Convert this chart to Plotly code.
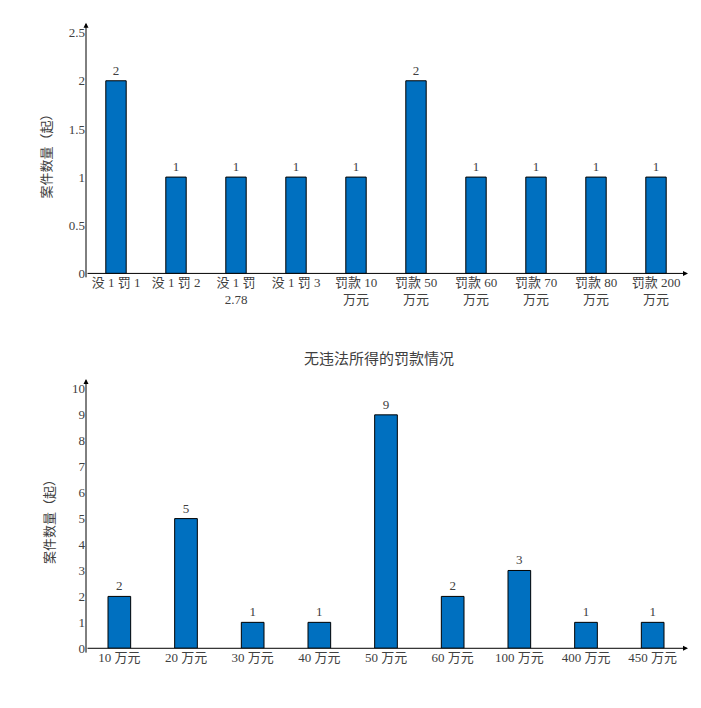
import plotly.graph_objects as go
from plotly.subplots import make_subplots

cats1 = ["没 1 罚 1", "没 1 罚 2", "没 1 罚<br>2.78", "没 1 罚 3", "罚款 10<br>万元", "罚款 50<br>万元",
         "罚款 60<br>万元", "罚款 70<br>万元", "罚款 80<br>万元", "罚款 200<br>万元"]
vals1 = [2, 1, 1, 1, 1, 2, 1, 1, 1, 1]
cats2 = ["10 万元", "20 万元", "30 万元", "40 万元", "50 万元", "60 万元", "100 万元", "400 万元", "450 万元"]
vals2 = [2, 5, 1, 1, 9, 2, 3, 1, 1]
title2 = "无违法所得的罚款情况"
ytitle = "案件数量（起）"

FONT = "Liberation Serif, Noto Sans CJK SC"
fig = make_subplots(rows=2, cols=1)
for i, (c, v) in enumerate([(cats1, vals1), (cats2, vals2)], start=1):
    fig.add_trace(go.Bar(x=c, y=v, text=v, textposition="outside", width=0.34,
                         marker=dict(color="#0070C0", line=dict(color="black", width=1)),
                         textfont=dict(size=13, color="#404040"), cliponaxis=False), row=i, col=1)

x0, x1 = 78/701, 678/701
fig.update_layout(
    width=701, height=708, margin=dict(l=0, r=0, t=0, b=0), showlegend=False,
    plot_bgcolor="white", paper_bgcolor="white", font=dict(family=FONT, size=13, color="#404040"),
    xaxis=dict(domain=[x0, x1], anchor="y", showline=False, ticks="", tickfont=dict(size=13)),
    yaxis=dict(domain=[1-264/708, 1-18/708], range=[0, 2.5], dtick=0.5, showgrid=False,
               showline=False, ticks="", zeroline=False, title=dict(text=ytitle, font=dict(size=13), standoff=14)),
    xaxis2=dict(domain=[x0, x1], anchor="y2", showline=False, ticks="", tickfont=dict(size=13)),
    yaxis2=dict(domain=[1-647/708, 1-382/708], range=[0, 10], dtick=1, showgrid=False,
                showline=False, ticks="", zeroline=False, title=dict(text=ytitle, font=dict(size=13), standoff=14)),
    bargap=0.66,
)
for (ybpx, ytpx) in [(264, 8), (647, 372)]:
    yb = 1 - ybpx/708
    fig.add_annotation(x=x0, y=1-ytpx/708, ax=0, ay=ybpx-ytpx, xref="paper", yref="paper",
                       axref="pixel", ayref="pixel",
                       showarrow=True, arrowhead=2, arrowsize=1, arrowwidth=1, arrowcolor="black", text="")
    fig.add_annotation(x=x1+2/701, y=yb, ax=-602, ay=0, xref="paper", yref="paper",
                       axref="pixel", ayref="pixel",
                       showarrow=True, arrowhead=2, arrowsize=1, arrowwidth=1, arrowcolor="black", text="")
fig.add_annotation(x=0.5 + 20/701, y=1-351/708, xref="paper", yref="paper", text=title2, showarrow=False,
                   font=dict(size=15, color="#404040"))
fig.write_html("out.html")
